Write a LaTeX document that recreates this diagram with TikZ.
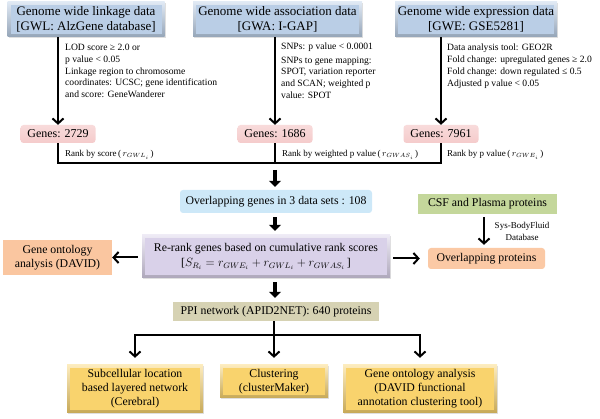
\documentclass[tikz,border=0pt]{standalone}
\usepackage{fontspec}
\setmainfont{Liberation Serif}
\usetikzlibrary{arrows.meta,shadows,calc}
\definecolor{topblue}{HTML}{BACEE6}
\definecolor{genepink}{HTML}{F5CBCB}
\definecolor{ovblue}{HTML}{CDE8F8}
\definecolor{rrpurple}{HTML}{D9D1E9}
\definecolor{peach}{HTML}{FAC6A0}
\definecolor{oppeach}{HTML}{FBC9A5}
\definecolor{csfgreen}{HTML}{C4D79B}
\definecolor{ppitan}{HTML}{D6D2B3}
\definecolor{gold}{HTML}{F9D36D}
\tikzset{
  bevel/.style={top color=#1!45!white, bottom color=#1!80!black,
    drop shadow={opacity=0.25, shadow xshift=1.2pt, shadow yshift=-1.2pt},
    path picture={\fill[#1] ([shift={(3pt,-3pt)}]path picture bounding box.north west)
      rectangle ([shift={(-3pt,3pt)}]path picture bounding box.south east);}},
  flat/.style={fill=#1, rounded corners=3pt},
  topbox/.style={bevel=topblue, minimum height=35pt, font=\fontsize{13}{14.5}\selectfont},
  genebox/.style={top color=genepink!70!white, bottom color=genepink, rounded corners=3pt,
    minimum width=75pt, minimum height=18pt, font=\fontsize{12}{14}\selectfont},
  note/.style={anchor=north west, align=left, font=\fontsize{9.6}{11.8}\selectfont},
  ranklab/.style={anchor=west, font=\fontsize{9}{11}\selectfont},
  midtext/.style={font=\fontsize{11.8}{14}\selectfont},
  botbox/.style={bevel=gold, font=\fontsize{11.8}{14}\selectfont},
  arr/.style={line width=2pt, -{Straight Barb[length=5pt,width=11pt]}},
  plain/.style={line width=2pt},
  fat/.style={line width=4.5pt, -{Triangle[length=6pt,width=12pt]}},
  every node/.append style={inner sep=0pt, align=center}
}
\begin{document}
\begin{tikzpicture}[x=1pt,y=-1pt]
\useasboundingbox (0,0) rectangle (600,419);

% top source boxes
\node[topbox, minimum width=157pt] (gwl) at (86,19.5) {Genome wide linkage data\\{[}GWL: AlzGene database]};
\node[topbox, minimum width=169pt] (gwa) at (277.5,19.5) {Genome wide association data\\{[}GWA: I-GAP]};
\node[topbox, minimum width=162pt] (gwe) at (476,19.5) {Genome wide expression data\\{[}GWE: GSE5281]};

% gene count boxes
\node[genebox] (g1) at (58,134) {Genes: 2729};
\node[genebox] (g2) at (275,134) {Genes: 1686};
\node[genebox] (g3) at (441,134) {Genes: 7961};

% arrows from sources
\draw[arr] (gwl.south -| g1.north) -- (g1.north);
\draw[arr] (gwa.south -| g2.north) -- (g2.north);
\draw[arr] (gwe.south -| g3.north) -- (g3.north);

% filter notes
\node[note] (n1) at (65,44) {LOD score ≥ 2.0 or\\p value < 0.05\\Linkage region to chromosome\\coordinates: UCSC; gene identification\\and score: GeneWanderer};
\node[note] (n2) at (281,43) {SNPs: p value < 0.0001\\[1.5pt]SNPs to gene mapping:\\SPOT, variation reporter\\and SCAN; weighted p\\value: SPOT};
\node[note] (n3) at (447,44) {Data analysis tool: GEO2R\\Fold change: upregulated genes ≥ 2.0\\Fold change: down regulated ≤ 0.5\\Adjusted p value < 0.05};

% bracket joining the three rankings
\coordinate (j) at (g2.south |- 0,163);
\draw[plain] (g1.south) |- (j) -| (g3.south);
\draw[plain] (g2.south) -- (j);
\node[ranklab] (r1) at (65,155) {Rank by score\,(\,$r_{GWL_i}$\,)};
\node[ranklab] (r2) at (282,155) {Rank by weighted p value\,(\,$r_{GWAS_i}$\,)};
\node[ranklab] (r3) at (447,155) {Rank by p value\,(\,$r_{GWE_i}$\,)};

% overlapping genes
\node[flat=ovblue, minimum width=192pt, minimum height=23pt, midtext] (ovg) at (276,201.5) {Overlapping genes in 3 data sets : 108};
\draw[fat, shorten <=7pt, shorten >=3pt] (j) -- (ovg.north -| j);

% re-rank box
\node[bevel=rrpurple, minimum width=248pt, minimum height=43pt, midtext] (rr) at (266,256.5)
  {Re-rank genes based on cumulative rank scores\\[1pt]{[}$S_{R_i} = r_{GWE_i} + r_{GWL_i} + r_{GWAS_i}$\,]};
\draw[fat, shorten <=4pt, shorten >=4pt] (ovg.south -| j) -- (rr.north -| j);

% gene ontology (left)
\node[fill=peach, minimum width=109pt, minimum height=35pt, midtext] (go1) at (57.5,257.5) {Gene ontology\\analysis (DAVID)};
\draw[arr, shorten <=4pt] (rr.west |- go1.east) -- (go1.east);

% CSF and overlapping proteins
\node[flat=csfgreen, rounded corners=0pt, minimum width=139pt, minimum height=20pt, midtext] (csf) at (487.5,204) {CSF and Plasma proteins};
\node[flat=oppeach, minimum width=117pt, minimum height=21pt, midtext] (op) at (486.5,258.5) {Overlapping proteins};
\draw[arr, shorten <=3pt, shorten >=3pt] (csf.south -| 484,0) -- (op.north -| 484,0);
\node[font=\fontsize{9}{12.5}\selectfont] (sbf) at (522,231.5) {Sys-BodyFluid\\Database};
\draw[arr, shorten <=3pt, shorten >=8pt] (rr.east |- op.west) -- (op.west);

% PPI network
\node[fill=ppitan, minimum width=206pt, minimum height=19pt, midtext] (ppi) at (276,311.5) {PPI network (APID2NET): 640 proteins};
\draw[fat, shorten <=4pt, shorten >=4pt] (rr.south -| j) -- (ppi.north -| j);

% bottom analyses
\node[botbox, minimum width=136pt, minimum height=48pt] (b1) at (135,389) {Subcellular location\\based layered network\\(Cerebral)};
\node[botbox, minimum width=108pt, minimum height=33pt] (b2) at (274,381.5) {Clustering\\(clusterMaker)};
\node[botbox, minimum width=154pt, minimum height=48pt] (b3) at (420,389) {Gene ontology analysis\\(DAVID functional\\annotation clustering tool)};

\coordinate (k) at (b2.north |- 0,335);
\draw[arr, shorten >=7pt] (ppi.south -| b2.north) -- (b2.north);
\draw[arr, shorten >=7pt] (k) -| (b1.north);
\draw[arr, shorten >=7pt] (k) -| (b3.north);
\end{tikzpicture}
\end{document}
